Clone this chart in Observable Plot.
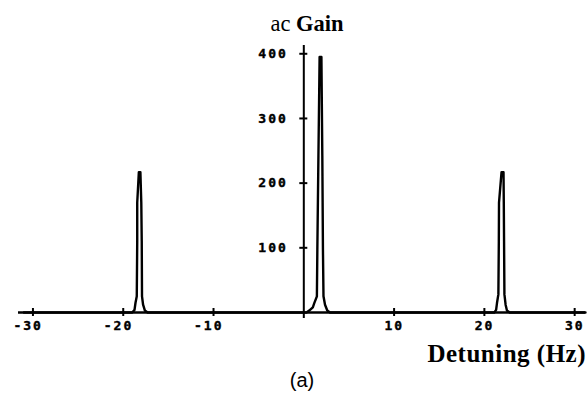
<!DOCTYPE html>
<html>
<head>
<meta charset="utf-8">
<script src="https://cdn.jsdelivr.net/npm/d3@7"></script>
<script src="https://cdn.jsdelivr.net/npm/@observablehq/plot@0.6"></script>
<style>
  html, body { margin: 0; padding: 0; background: #fff; }
  #wrap { position: relative; width: 587px; height: 395px; overflow: hidden; }
  #wrap svg { position: absolute; left: 0; top: 0; z-index: 0; }
  .lbl { position: absolute; white-space: nowrap; line-height: 1; color: #000; z-index: 1; }
  #title { font-family: "Liberation Serif", serif; font-size: 22.5px; left: 307px; top: 13px; transform: translateX(-50%); }
  #xlabel { font-family: "Liberation Serif", serif; font-size: 25px; font-weight: bold; right: 1px; top: 341px; letter-spacing: 0.5px; }
  #caption { font-family: "Liberation Sans", sans-serif; font-size: 20px; left: 302px; top: 370px; transform: translateX(-50%); }
</style>
</head>
<body>
<div id="wrap">
  <div id="title" class="lbl">ac <b>Gain</b></div>
  <div id="xlabel" class="lbl">Detuning (Hz)</div>
  <div id="caption" class="lbl">(a)</div>
</div>
<script>
// Curve: detuning (Hz) vs ac gain
const detuning = [
  -31, -19.0, -18.75, -18.64, -18.5, -18.45, -18.45, -18.27, -18.1, -18.0, -17.95, -17.92, -17.8, -17.6, -17.3,
  0.3, 0.6, 1.0, 1.15, 1.45, 1.5, 1.62, 1.75, 1.95, 2.05, 2.12, 2.18, 2.35, 2.6, 2.9,
  21.1, 21.3, 21.4, 21.55, 21.6, 21.62, 21.9, 22.12, 22.15, 22.18, 22.22, 22.35, 22.5, 22.8, 31.2
];
const gain = [
  0, 0, 4, 15, 25, 110, 170, 217, 217, 170, 110, 25, 12, 3, 0,
  0, 3, 8, 14, 25, 97, 243, 395, 395, 243, 97, 25, 12, 3, 0,
  0, 4, 15, 28, 110, 170, 217, 217, 170, 110, 28, 12, 3, 0, 0
];
const xTicks = [-30, -20, -10, 10, 20, 30];
const xTickLabels = ["-30", "-20", "-10", "10", "20", "30"];
const yTicks = [100, 200, 300, 400];
const yTickLabels = ["100", "200", "300", "400"];

const curve = detuning.map((d, i) => ({x: d, y: gain[i]}));
const tickFont = {fontFamily: "DejaVu Sans Mono", fontWeight: "bold", fontSize: 13};

const chart = Plot.plot({
  width: 587,
  height: 395,
  marginLeft: 18,
  marginRight: 2,
  marginTop: 45,
  marginBottom: 77,
  x: {domain: [-31.6, 31.2], axis: null},
  y: {domain: [-9.3, 412.8], axis: null},
  style: {background: "white"},
  marks: [
    Plot.ruleY([0], {stroke: "#000", strokeWidth: 2.4}),
    Plot.ruleX([0], {stroke: "#000", strokeWidth: 2, y1: -9.3, y2: 412.8}),
    Plot.ruleX(xTicks, {x: d => d, y1: 0, y2: 0, insetTop: -4, insetBottom: -4, stroke: "#000", strokeWidth: 2}),
    Plot.ruleY(yTicks, {y: d => d, x1: 0, x2: 0, insetLeft: -4, insetRight: -4, stroke: "#000", strokeWidth: 2}),
    Plot.text(xTicks, {x: d => d, y: 0, text: (d, i) => xTickLabels[i], textAnchor: "end", dx: 10, dy: 8, lineAnchor: "top", ...tickFont}),
    Plot.text(yTicks, {x: 0, y: d => d, text: (d, i) => yTickLabels[i], textAnchor: "end", dx: -16, ...tickFont}),
    Plot.line(curve, {x: "x", y: "y", stroke: "#000", strokeWidth: 2.4, curve: "linear"})
  ]
});
chart.querySelectorAll("text").forEach(t => { t.style.letterSpacing = "2px"; t.style.stroke = "#000"; t.style.strokeWidth = "0.4px"; });
const wrap = document.getElementById("wrap");
wrap.insertBefore(chart, wrap.firstChild);
</script>
</body>
</html>
